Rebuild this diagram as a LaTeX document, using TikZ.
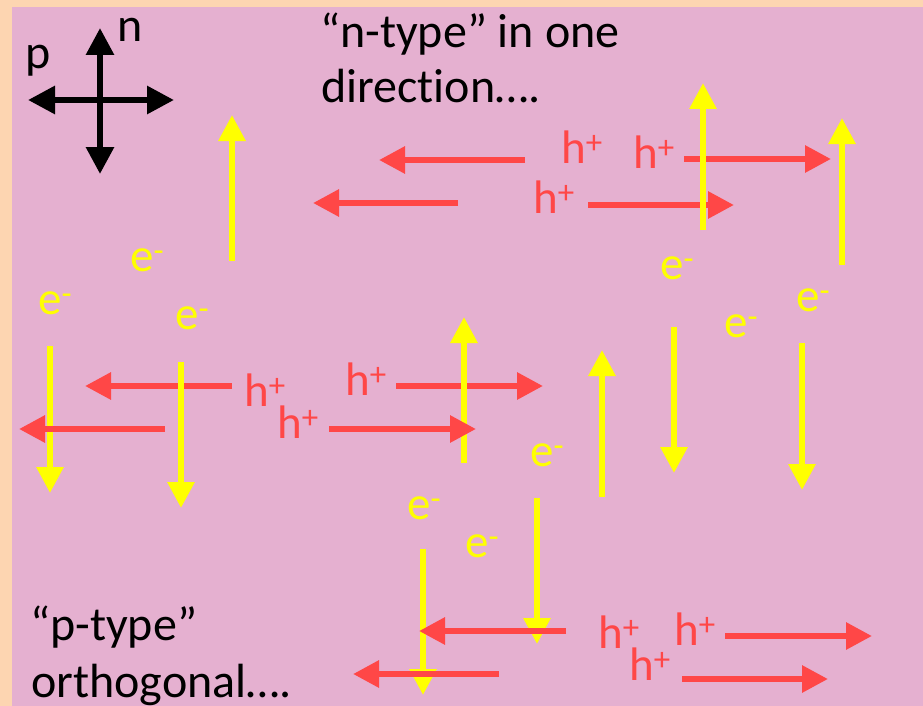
\documentclass[tikz,border=0pt]{standalone}
\usepackage{fontspec}
\setmainfont[Ligatures=NoCommon]{Carlito}
\usetikzlibrary{arrows.meta}
\definecolor{peach}{RGB}{253,213,177}
\definecolor{pinkbg}{RGB}{229,176,208}
\definecolor{hred}{RGB}{255,71,71}
\definecolor{eyel}{RGB}{255,255,0}
\tikzset{
  arr/.style={line width=6pt, -{Triangle[length=26pt,width=26pt]}},
  yarr/.style={arr, draw=eyel},
  rarr/.style={arr, draw=hred},
  karr/.style={line width=6pt, {Triangle[length=27pt,width=27pt]}-{Triangle[length=27pt,width=27pt]}, draw=black},
  lbl/.style={anchor=base west, inner sep=0pt, font=\fontsize{47}{56}\selectfont},
  elbl/.style={lbl, text=eyel},
  hlbl/.style={lbl, text=hred},
  tlbl/.style={lbl, text=black, font=\fontsize{48}{57}\selectfont}
}
\begin{document}
\begin{tikzpicture}[x=1pt,y=-1pt]
\useasboundingbox (0,0) rectangle (923,706);
\fill[peach] (0,0) rectangle (923,706);
\fill[pinkbg] (12,7) rectangle (923,706);

% compass
\coordinate (cu) at (100,28);
\coordinate (cd) at (100,174);
\coordinate (cl) at (28,100);
\coordinate (cr) at (174,100);
\draw[karr] (cd) -- (cu);
\draw[karr] (cl) -- (cr);
\node[tlbl] (nl) at (117,42) {n};
\node[tlbl] (pl) at (25,69) {p};

% headings
\node[tlbl] (t1) at (320,48) {“n-type” in one};
\node[tlbl] (t2) at (321,103) {direction….};
\node[tlbl] (t3) at (30,640) {“p-type”};
\node[tlbl] (t4) at (31,697) {orthogonal….};

% red arrows (coordinates)
\coordinate (r1s) at (525,160); \coordinate (r1e) at (379,160);
\coordinate (r2s) at (458,203); \coordinate (r2e) at (313,203);
\coordinate (r3s) at (684,159); \coordinate (r3e) at (831,159);
\coordinate (r4s) at (588,205); \coordinate (r4e) at (734,205);
\coordinate (r5s) at (232,386); \coordinate (r5e) at (85,386);
\coordinate (r6s) at (165,429); \coordinate (r6e) at (19,429);
\coordinate (r7s) at (396,386); \coordinate (r7e) at (543,386);
\coordinate (r8s) at (329,429); \coordinate (r8e) at (476,429);
\coordinate (r9s) at (566,631); \coordinate (r9e) at (419,631);
\coordinate (r10s) at (499,674); \coordinate (r10e) at (353,674);
\coordinate (r11s) at (725,636); \coordinate (r11e) at (872,636);
\coordinate (r12s) at (682,679); \coordinate (r12e) at (828,679);

% yellow arrows (coordinates)
\coordinate (y1s) at (232,261); \coordinate (y1e) at (232,115);
\coordinate (y2s) at (703,230); \coordinate (y2e) at (703,83);
\coordinate (y3s) at (842,265); \coordinate (y3e) at (842,118);
\coordinate (y4s) at (674,327); \coordinate (y4e) at (674,473);
\coordinate (y5s) at (802,343); \coordinate (y5e) at (802,490);
\coordinate (y6s) at (602,497); \coordinate (y6e) at (602,350);
\coordinate (y7s) at (50,346); \coordinate (y7e) at (50,493);
\coordinate (y8s) at (181,362); \coordinate (y8e) at (181,508);
\coordinate (y9s) at (464,463); \coordinate (y9e) at (464,317);
\coordinate (y10s) at (537,498); \coordinate (y10e) at (537,644);
\coordinate (y11s) at (423,549); \coordinate (y11e) at (423,695);

% red arrows below yellow
\draw[rarr] (r3s) -- (r3e);
\draw[rarr] (r4s) -- (r4e);
\draw[rarr] (r5s) -- (r5e);
\draw[rarr] (r7s) -- (r7e);

% yellow arrows
\foreach \i in {1,...,11} { \draw[yarr] (y\i s) -- (y\i e); }

% red arrows above yellow
\foreach \i in {1,2,6,8,9,10,11,12} { \draw[rarr] (r\i s) -- (r\i e); }

% e- labels
\node[elbl] (e1) at (130,271) {e\textsuperscript{-}};
\node[elbl] (e2) at (38,314) {e\textsuperscript{-}};
\node[elbl] (e3) at (175,329) {e\textsuperscript{-}};
\node[elbl] (e4) at (660,279) {e\textsuperscript{-}};
\node[elbl] (e5) at (724,337) {e\textsuperscript{-}};
\node[elbl] (e6) at (796,311) {e\textsuperscript{-}};
\node[elbl] (e7) at (530,466) {e\textsuperscript{-}};
\node[elbl] (e8) at (407,519) {e\textsuperscript{-}};
\node[elbl] (e9) at (465,557) {e\textsuperscript{-}};

% h+ labels
\node[hlbl] (h1) at (561,163) {h\textsuperscript{+}};
\node[hlbl] (h2) at (633,168) {h\textsuperscript{+}};
\node[hlbl] (h3) at (533,213) {h\textsuperscript{+}};
\node[hlbl] (h4) at (244,406) {h\textsuperscript{+}};
\node[hlbl] (h5) at (345,395) {h\textsuperscript{+}};
\node[hlbl] (h6) at (277,438) {h\textsuperscript{+}};
\node[hlbl] (h7) at (598,648) {h\textsuperscript{+}};
\node[hlbl] (h8) at (674,645) {h\textsuperscript{+}};
\node[hlbl] (h9) at (629,680) {h\textsuperscript{+}};
\end{tikzpicture}
\end{document}
